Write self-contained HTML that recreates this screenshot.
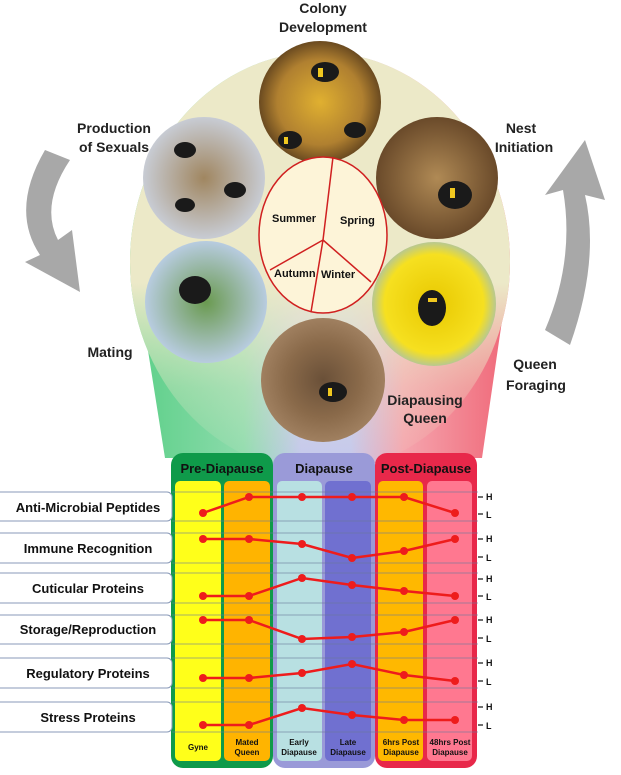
<!DOCTYPE html>
<html><head><meta charset="utf-8"><style>
body{margin:0;background:#fff;}
svg text{font-family:"Liberation Sans",sans-serif;font-weight:bold;}
</style></head><body>
<svg width="621" height="770" viewBox="0 0 621 770" xmlns="http://www.w3.org/2000/svg">
<defs>
<linearGradient id="fun" x1="0" x2="1" y1="0" y2="0">
<stop offset="0" stop-color="#5fd08a"/><stop offset="0.3" stop-color="#8fdcae"/>
<stop offset="0.45" stop-color="#c4c8ee"/><stop offset="0.58" stop-color="#c4c8ee"/>
<stop offset="0.72" stop-color="#f5a5ae"/><stop offset="1" stop-color="#f06a7a"/></linearGradient>
<linearGradient id="beige" x1="0" x2="0" y1="0" y2="1">
<stop offset="0" stop-color="#ece9c8" stop-opacity="1"/><stop offset="0.55" stop-color="#ece9c8" stop-opacity="1"/>
<stop offset="0.8" stop-color="#ece9c8" stop-opacity="0.3"/><stop offset="1" stop-color="#ece9c8" stop-opacity="0"/></linearGradient>
<radialGradient id="brown"><stop offset="0" stop-color="#b08a55"/><stop offset="1" stop-color="#6a4a2a"/></radialGradient>
<radialGradient id="gold"><stop offset="0" stop-color="#e0b030"/><stop offset="0.7" stop-color="#b08030"/><stop offset="1" stop-color="#6a4a20"/></radialGradient>
<radialGradient id="gray"><stop offset="0" stop-color="#a08660"/><stop offset="1" stop-color="#c8ccd4"/></radialGradient>
<radialGradient id="sky"><stop offset="0" stop-color="#6a9a50"/><stop offset="1" stop-color="#b8cce0"/></radialGradient>
<radialGradient id="yel"><stop offset="0" stop-color="#e8c800"/><stop offset="0.8" stop-color="#f6e020"/><stop offset="1" stop-color="#b8c890"/></radialGradient>
<radialGradient id="dirt"><stop offset="0" stop-color="#6a5038"/><stop offset="0.6" stop-color="#8a6a4a"/><stop offset="1" stop-color="#a08060"/></radialGradient>
</defs>
<path d="M45 150 Q10 210 40 255 L25 262 L80 292 L72 230 L58 240 Q40 205 70 160 Z" fill="#a8a8a8"/>
<path d="M570 345 Q600 260 585 195 L605 200 L585 140 L545 195 L563 190 Q575 260 545 330 Z" fill="#a8a8a8"/>
<path d="M140 300 L165 458 L482 458 L505 300 Z" fill="url(#fun)"/>
<ellipse cx="320" cy="262" rx="190" ry="210" fill="url(#fun)"/>
<ellipse cx="320" cy="262" rx="190" ry="210" fill="url(#beige)"/>
<circle cx="320" cy="102" r="61" fill="url(#gold)"/>
<circle cx="204" cy="178" r="61" fill="url(#gray)"/>
<circle cx="437" cy="178" r="61" fill="url(#brown)"/>
<circle cx="206" cy="302" r="61" fill="url(#sky)"/>
<circle cx="434" cy="304" r="62" fill="url(#yel)"/>
<circle cx="323" cy="380" r="62" fill="url(#dirt)"/>
<g fill="#1a1a1a">
<ellipse cx="325" cy="72" rx="14" ry="10"/><ellipse cx="290" cy="140" rx="12" ry="9"/><ellipse cx="355" cy="130" rx="11" ry="8"/>
<ellipse cx="185" cy="150" rx="11" ry="8"/><ellipse cx="235" cy="190" rx="11" ry="8"/><ellipse cx="185" cy="205" rx="10" ry="7"/>
<ellipse cx="455" cy="195" rx="17" ry="14"/><ellipse cx="195" cy="290" rx="16" ry="14"/><ellipse cx="432" cy="308" rx="14" ry="18"/>
<ellipse cx="333" cy="392" rx="14" ry="10"/></g>
<g fill="#f0c820">
<rect x="318" y="68" width="5" height="9"/><rect x="284" y="137" width="4" height="7"/><rect x="450" y="188" width="5" height="10"/>
<rect x="428" y="298" width="9" height="4"/><rect x="328" y="388" width="4" height="8"/></g>
<ellipse cx="323" cy="235" rx="64" ry="78" fill="#fdf4d8" stroke="#d02020" stroke-width="1.5"/>
<path d="M333 157 L323 240 L311 312 M323 240 L270 270 M323 240 L371 282" fill="none" stroke="#d02020" stroke-width="1.5"/>
<g font-size="11" fill="#111"><text x="272" y="222">Summer</text><text x="340" y="224">Spring</text>
<text x="274" y="277">Autumn</text><text x="321" y="278">Winter</text></g>
<g font-size="14" fill="#222" text-anchor="middle">
<text x="323" y="13">Colony</text><text x="323" y="32">Development</text>
<text x="114" y="133">Production</text><text x="114" y="152">of Sexuals</text>
<text x="521" y="133">Nest</text><text x="524" y="152">Initiation</text>
<text x="110" y="357">Mating</text>
<text x="535" y="369">Queen</text><text x="536" y="390">Foraging</text>
<text x="425" y="487">Diapausing</text>
</g>
<text x="425" y="505" display="none"></text>

<!-- chart -->
<rect x="0" y="0" width="0" height="0"/>
<rect x="171" y="453" width="102" height="315" rx="12" fill="#0f9a4a"/>
<rect x="273" y="453" width="102" height="315" rx="12" fill="#9a9ad8"/>
<rect x="375" y="453" width="102" height="315" rx="12" fill="#e8284a"/>
<g font-size="13" fill="#111" text-anchor="middle">
<text x="222" y="473">Pre-Diapause</text><text x="324" y="473">Diapause</text><text x="426" y="473">Post-Diapause</text></g>
<rect x="175" y="481" width="46" height="280" rx="5" fill="#ffff1a"/>
<rect x="224" y="481" width="46" height="280" rx="5" fill="#ffb400"/>
<rect x="277" y="481" width="45" height="280" rx="5" fill="#b8e0e2"/>
<rect x="325" y="481" width="46" height="280" rx="5" fill="#7070d0"/>
<rect x="378" y="481" width="45" height="280" rx="5" fill="#ffb800"/>
<rect x="427" y="481" width="45" height="280" rx="5" fill="#ff7890"/>
<g stroke="#6a7a9a" stroke-width="0.8" opacity="0.8">
<line x1="172" y1="492" x2="478" y2="492"/><line x1="172" y1="521" x2="478" y2="521"/>
<line x1="172" y1="533" x2="478" y2="533"/><line x1="172" y1="563" x2="478" y2="563"/>
<line x1="172" y1="573" x2="478" y2="573"/><line x1="172" y1="603" x2="478" y2="603"/>
<line x1="172" y1="615" x2="478" y2="615"/><line x1="172" y1="644" x2="478" y2="644"/>
<line x1="172" y1="658" x2="478" y2="658"/><line x1="172" y1="688" x2="478" y2="688"/>
<line x1="172" y1="702" x2="478" y2="702"/><line x1="172" y1="732" x2="478" y2="732"/>
</g>
<g fill="#fff" stroke="#8a9ab8" stroke-width="1">
<rect x="-5" y="492" width="177" height="29" rx="5"/>
<rect x="-5" y="533" width="177" height="30" rx="5"/>
<rect x="-5" y="573" width="177" height="30" rx="5"/>
<rect x="-5" y="615" width="177" height="29" rx="5"/>
<rect x="-5" y="658" width="177" height="30" rx="5"/>
<rect x="-5" y="702" width="177" height="30" rx="5"/>
</g>
<g font-size="13" fill="#111" text-anchor="middle">
<text x="88" y="512">Anti-Microbial Peptides</text>
<text x="88" y="553">Immune Recognition</text>
<text x="88" y="593">Cuticular Proteins</text>
<text x="88" y="634">Storage/Reproduction</text>
<text x="88" y="678">Regulatory Proteins</text>
<text x="88" y="722">Stress Proteins</text>
</g>
<g font-size="8" fill="#111" text-anchor="middle">
<text x="198" y="750">Gyne</text>
<text x="247" y="745">Mated</text><text x="247" y="755">Queen</text>
<text x="299" y="745">Early</text><text x="299" y="755">Diapause</text>
<text x="348" y="745">Late</text><text x="348" y="755">Diapause</text>
<text x="401" y="745">6hrs Post</text><text x="401" y="755">Diapause</text>
<text x="450" y="745">48hrs Post</text><text x="450" y="755">Diapause</text>
</g>
<g stroke="#111" stroke-width="1.2">
<line x1="478" y1="497" x2="483" y2="497"/><line x1="478" y1="514" x2="483" y2="514"/>
<line x1="478" y1="539" x2="483" y2="539"/><line x1="478" y1="557" x2="483" y2="557"/>
<line x1="478" y1="579" x2="483" y2="579"/><line x1="478" y1="596" x2="483" y2="596"/>
<line x1="478" y1="620" x2="483" y2="620"/><line x1="478" y1="638" x2="483" y2="638"/>
<line x1="478" y1="663" x2="483" y2="663"/><line x1="478" y1="681" x2="483" y2="681"/>
<line x1="478" y1="707" x2="483" y2="707"/><line x1="478" y1="725" x2="483" y2="725"/>
</g>
<g font-size="9" fill="#111">
<text x="486" y="500">H</text><text x="486" y="518">L</text>
<text x="486" y="542">H</text><text x="486" y="561">L</text>
<text x="486" y="582">H</text><text x="486" y="600">L</text>
<text x="486" y="623">H</text><text x="486" y="642">L</text>
<text x="486" y="666">H</text><text x="486" y="685">L</text>
<text x="486" y="710">H</text><text x="486" y="729">L</text>
</g>
<g fill="none" stroke="#ee1c1c" stroke-width="2.5">
<polyline points="203,513 249,497 302,497 352,497 404,497 455,513"/>
<polyline points="203,539 249,539 302,544 352,558 404,551 455,539"/>
<polyline points="203,596 249,596 302,578 352,585 404,591 455,596"/>
<polyline points="203,620 249,620 302,639 352,637 404,632 455,620"/>
<polyline points="203,678 249,678 302,673 352,664 404,675 455,681"/>
<polyline points="203,725 249,725 302,708 352,715 404,720 455,720"/>
</g>
<g fill="#ee1c1c">
<circle cx="203" cy="513" r="4"/><circle cx="249" cy="497" r="4"/><circle cx="302" cy="497" r="4"/><circle cx="352" cy="497" r="4"/><circle cx="404" cy="497" r="4"/><circle cx="455" cy="513" r="4"/>
<circle cx="203" cy="539" r="4"/><circle cx="249" cy="539" r="4"/><circle cx="302" cy="544" r="4"/><circle cx="352" cy="558" r="4"/><circle cx="404" cy="551" r="4"/><circle cx="455" cy="539" r="4"/>
<circle cx="203" cy="596" r="4"/><circle cx="249" cy="596" r="4"/><circle cx="302" cy="578" r="4"/><circle cx="352" cy="585" r="4"/><circle cx="404" cy="591" r="4"/><circle cx="455" cy="596" r="4"/>
<circle cx="203" cy="620" r="4"/><circle cx="249" cy="620" r="4"/><circle cx="302" cy="639" r="4"/><circle cx="352" cy="637" r="4"/><circle cx="404" cy="632" r="4"/><circle cx="455" cy="620" r="4"/>
<circle cx="203" cy="678" r="4"/><circle cx="249" cy="678" r="4"/><circle cx="302" cy="673" r="4"/><circle cx="352" cy="664" r="4"/><circle cx="404" cy="675" r="4"/><circle cx="455" cy="681" r="4"/>
<circle cx="203" cy="725" r="4"/><circle cx="249" cy="725" r="4"/><circle cx="302" cy="708" r="4"/><circle cx="352" cy="715" r="4"/><circle cx="404" cy="720" r="4"/><circle cx="455" cy="720" r="4"/>
</g>
<g font-size="14" fill="#222" text-anchor="middle">
<text x="425" y="405">Diapausing</text><text x="425" y="423">Queen</text>
</g>
</svg>
</body></html>
